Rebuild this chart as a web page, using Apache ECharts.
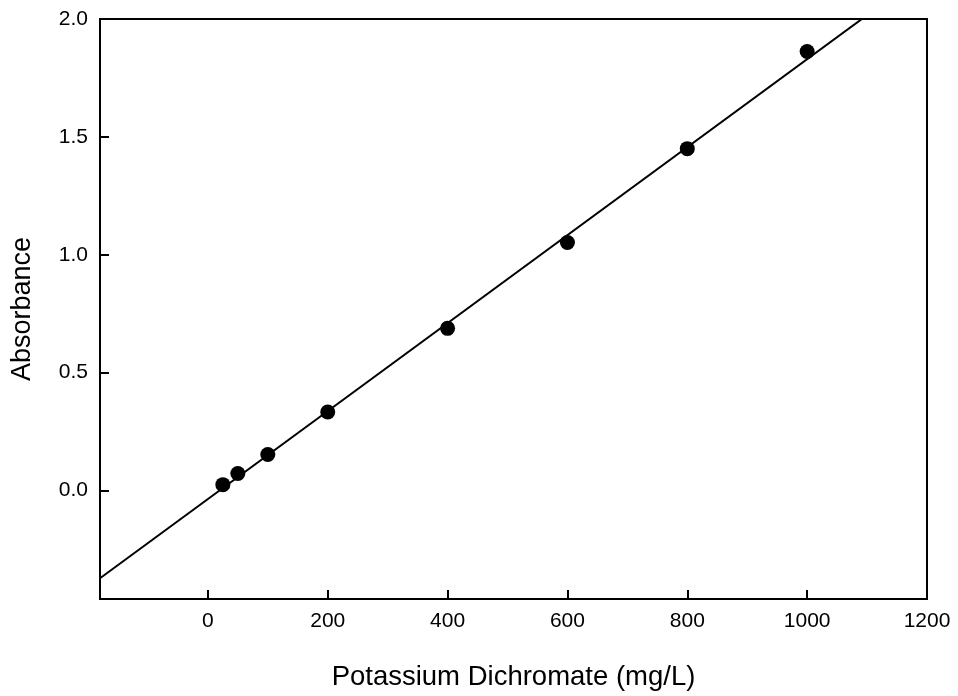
<!DOCTYPE html>
<html>
<head>
<meta charset="utf-8">
<script src="https://cdn.jsdelivr.net/npm/echarts@6/dist/echarts.min.js"></script>
<style>
  html, body { margin: 0; padding: 0; background: #fff; }
  #chart { width: 958px; height: 696px; }
</style>
</head>
<body>
<div id="chart"></div>
<script>
// standards: concentration (mg/L) vs absorbance
const concentration = [25, 50, 100, 200, 400, 600, 800, 1000];
const absorbance = [0.025, 0.072, 0.153, 0.333, 0.688, 1.052, 1.45, 1.862];
const xRange = [-180, 1200];
const yRange = [-0.46, 2.0];

// least squares fit of the standards
const n = concentration.length;
const mx = concentration.reduce((s, v) => s + v, 0) / n;
const my = absorbance.reduce((s, v) => s + v, 0) / n;
let sxy = 0, sxx = 0;
concentration.forEach((x, i) => {
  sxy += (x - mx) * (absorbance[i] - my);
  sxx += (x - mx) * (x - mx);
});
const slope = sxy / sxx;
const intercept = my - slope * mx;
const fitLine = xRange.map(x => [x, intercept + slope * x]);

const chart = echarts.init(document.getElementById("chart"));
const font = "'Liberation Sans', Arial, sans-serif";

chart.setOption({
  animation: false,
  grid: {
    left: 100, right: 31, top: 19, bottom: 96,
    show: true, borderColor: "#000", borderWidth: 2, backgroundColor: "transparent"
  },
  xAxis: {
    type: "value",
    min: xRange[0], max: xRange[1],
    splitNumber: 7,
    name: "Potassium Dichromate (mg/L)",
    nameLocation: "middle",
    nameGap: 64,
    nameTextStyle: { fontFamily: font, fontSize: 27.5, color: "#000" },
    axisLine: { show: true, onZero: false, lineStyle: { color: "#000", width: 2 } },
    axisTick: { show: true, inside: true, length: 9, lineStyle: { color: "#000", width: 2 } },
    axisLabel: {
      showMinLabel: false, margin: 12, fontFamily: font, fontSize: 21, color: "#000",
      formatter: v => String(v)
    },
    splitLine: { show: false }
  },
  yAxis: {
    type: "value",
    min: yRange[0], max: yRange[1],
    splitNumber: 5,
    name: "Absorbance",
    nameLocation: "middle",
    nameGap: 64,
    nameTextStyle: { fontFamily: font, fontSize: 27, color: "#000" },
    axisLine: { show: true, onZero: false, lineStyle: { color: "#000", width: 2 } },
    axisTick: { show: true, inside: true, length: 9, lineStyle: { color: "#000", width: 2 } },
    axisLabel: {
      showMinLabel: false, margin: 12, fontFamily: font, fontSize: 21, color: "#000",
      formatter: v => v.toFixed(1)
    },
    splitLine: { show: false }
  },
  series: [
    {
      type: "line",
      data: fitLine,
      showSymbol: false,
      clip: true,
      lineStyle: { color: "#000", width: 2 },
      z: 2
    },
    {
      type: "scatter",
      data: concentration.map((x, i) => [x, absorbance[i]]),
      symbol: "circle",
      symbolSize: 15,
      itemStyle: { color: "#000", opacity: 1 },
      z: 3
    }
  ]
});
</script>
</body>
</html>
